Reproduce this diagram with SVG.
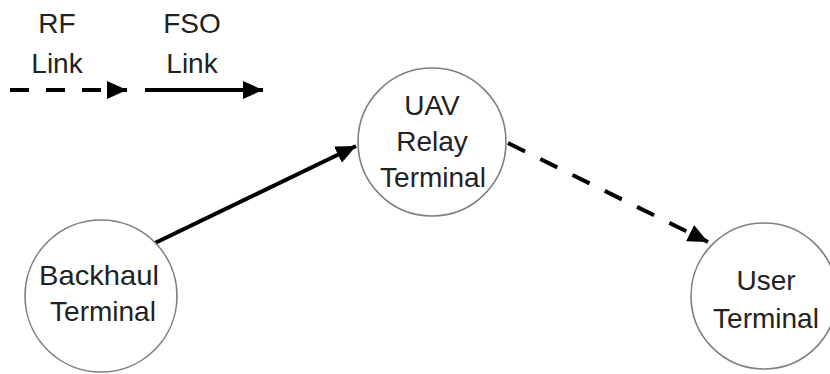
<svg xmlns="http://www.w3.org/2000/svg" width="830" height="374" viewBox="0 0 830 374">
<style>
.node{fill:#fff;stroke:#808080;stroke-width:1.6}
.lbl{font-family:"Liberation Sans",Arial,sans-serif;font-size:28px;fill:#222;text-anchor:middle}
.fso{stroke:#000;stroke-width:4;fill:none}
.rf{stroke:#000;stroke-width:4;fill:none;stroke-dasharray:19 17}
</style>
<defs>
<marker id="ah" markerUnits="userSpaceOnUse" markerWidth="22" markerHeight="18" refX="20" refY="9" orient="auto">
<path d="M0,0 L20,9 L0,18 Z" fill="#000"/>
</marker>
</defs>
<rect width="830" height="374" fill="#fff"/>
<g id="legend">
<text class="lbl" x="57" y="33">RF</text>
<text class="lbl" x="57" y="73">Link</text>
<text class="lbl" x="192" y="33">FSO</text>
<text class="lbl" x="192" y="73">Link</text>
<line class="rf" x1="10" y1="90" x2="127" y2="90" marker-end="url(#ah)"/>
<line class="fso" x1="145" y1="90" x2="263" y2="90" marker-end="url(#ah)"/>
</g>
<g id="connectors">
<line class="fso" x1="155" y1="243" x2="356" y2="146" marker-end="url(#ah)"/>
<line class="rf" x1="508" y1="143" x2="708" y2="242" marker-end="url(#ah)"/>
</g>
<g id="uav">
<circle class="node" cx="432" cy="142" r="74"/>
<text class="lbl" x="432" y="115">UAV</text>
<text class="lbl" x="432" y="151">Relay</text>
<text class="lbl" x="433" y="187">Terminal</text>
</g>
<g id="backhaul">
<circle class="node" cx="101" cy="296" r="76"/>
<text class="lbl" x="99" y="285" textLength="120" lengthAdjust="spacingAndGlyphs">Backhaul</text>
<text class="lbl" x="103" y="321">Terminal</text>
</g>
<g id="user">
<circle class="node" cx="764" cy="296" r="73"/>
<text class="lbl" x="766" y="290">User</text>
<text class="lbl" x="766" y="328">Terminal</text>
</g>
</svg>
